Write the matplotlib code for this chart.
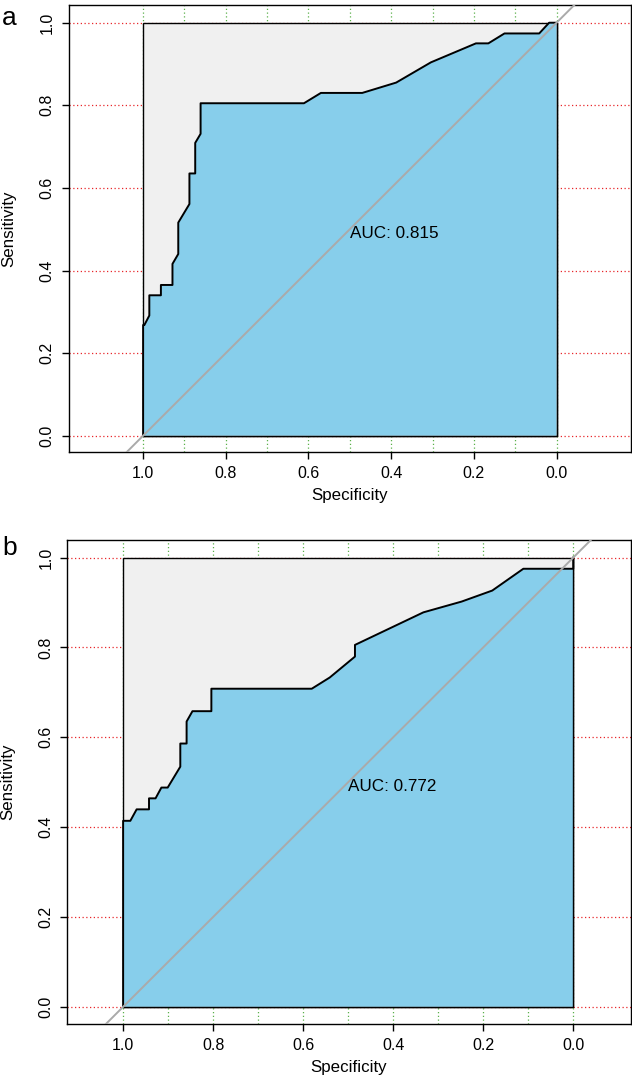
import numpy as np
import matplotlib
matplotlib.use('Agg')
import matplotlib.pyplot as plt

plt.rcParams['font.family'] = ['Liberation Sans', 'DejaVu Sans']

# ROC curve points (specificity, sensitivity)
spec_a = [0.0, 0.018, 0.042, 0.126, 0.165, 0.195, 0.304, 0.388, 0.47, 0.57, 0.611,
          0.861, 0.861, 0.874, 0.874, 0.888, 0.888, 0.915, 0.915, 0.929, 0.929,
          0.957, 0.957, 0.985, 0.985, 0.997, 1.0, 1.0]
sens_a = [1.0, 1.0, 0.974, 0.974, 0.95, 0.95, 0.904, 0.855, 0.83, 0.83, 0.805,
          0.805, 0.731, 0.709, 0.635, 0.635, 0.561, 0.516, 0.44, 0.416, 0.365,
          0.365, 0.34, 0.34, 0.291, 0.268, 0.268, 0.0]

spec_b = [0.0, 0.0, 0.111, 0.180, 0.248, 0.333, 0.485, 0.485, 0.541, 0.581,
          0.804, 0.804, 0.846, 0.859, 0.859, 0.873, 0.873, 0.901, 0.915, 0.928,
          0.9425, 0.9425, 0.970, 0.984, 1.0, 1.0]
sens_b = [1.0, 0.975, 0.975, 0.9265, 0.902, 0.878, 0.8055, 0.7795, 0.733, 0.708,
          0.708, 0.658, 0.658, 0.635, 0.586, 0.586, 0.5345, 0.488, 0.488, 0.464,
          0.464, 0.4395, 0.4395, 0.414, 0.414, 0.0]

auc_a = 0.815
auc_b = 0.772
panel_labels = ['a', 'b']
ticks = [1.0, 0.8, 0.6, 0.4, 0.2, 0.0]


def roc_panel(ax, spec, sens, auc, xlim, ylim):
    # dotted grid first, polygons cover it inside the square
    for y in np.arange(0, 1.01, 0.2):
        ax.axhline(y, color='#e8262a', ls=(0, (1, 2)), lw=0.9, zorder=1)
    for x in np.arange(0, 1.01, 0.1):
        ax.axvline(x, color='#5bb04a', ls=(0, (1, 2)), lw=0.9, zorder=1)

    ax.fill([1, 1, 0, 0], [0, 1, 1, 0], facecolor='#f0f0f0', edgecolor='black',
            lw=1.0, zorder=2)
    ax.fill(list(spec) + [0.0], list(sens) + [0.0], facecolor='skyblue',
            edgecolor='none', zorder=3)
    ax.plot([0, 0, 1], [1, 0, 0], color='black', lw=1.0, zorder=4)
    ax.plot(spec, sens, color='black', lw=1.4, zorder=5)
    ax.axline((1, 0), (0, 1), color='#aaaaaa', lw=1.4, zorder=6)
    ax.text(0.5, 0.49, 'AUC: %.3f' % auc, ha='left', va='center', fontsize=12.3,
            zorder=7)

    ax.set_xlim(xlim)
    ax.set_ylim(ylim)
    ax.set_xticks(ticks)
    ax.set_xticklabels(['%.1f' % t for t in ticks])
    ax.set_yticks(ticks)
    ax.set_yticklabels(['%.1f' % t for t in ticks], rotation=90, va='center')
    ax.tick_params(length=5, width=1, labelsize=11.5, pad=5)
    ax.set_xlabel('Specificity', fontsize=12.2, labelpad=5)
    ax.set_ylabel('Sensitivity', fontsize=12.2, labelpad=17)
    for s in ax.spines.values():
        s.set_linewidth(1.0)


fig = plt.figure(figsize=(6.32, 10.77), dpi=100)
ax1 = fig.add_axes([0.1087, 0.5803, 0.8897, 0.4151])
ax2 = fig.add_axes([0.1065, 0.0489, 0.8915, 0.4497])

roc_panel(ax1, spec_a, sens_a, auc_a, (1.18, -0.18), (-0.0395, 1.043))
roc_panel(ax2, spec_b, sens_b, auc_b, (1.124, -0.1276), (-0.039, 1.039))

fig.text(0.003, 0.983, panel_labels[0], fontsize=19, ha='left', va='center')
fig.text(0.003, 0.491, panel_labels[1], fontsize=19, ha='left', va='center')

fig.savefig('out.png', dpi=100)
